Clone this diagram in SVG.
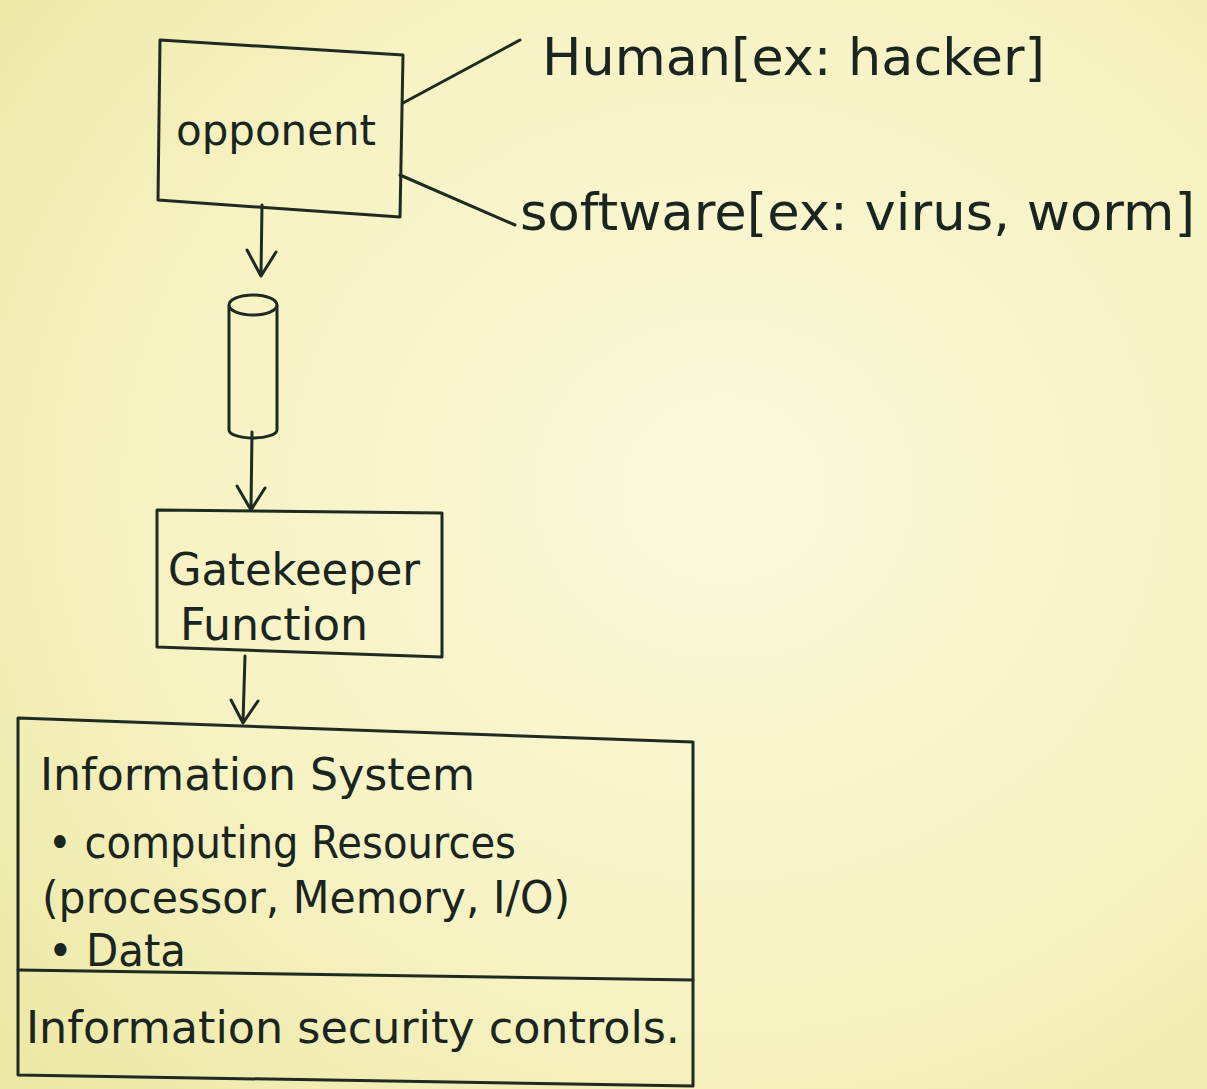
<svg xmlns="http://www.w3.org/2000/svg" width="1207" height="1089" viewBox="0 0 1207 1089">
<defs>
<radialGradient id="paper" cx="0.6" cy="0.45" r="0.8">
<stop offset="0" stop-color="#fbf9dc"/>
<stop offset="0.6" stop-color="#f6f2c2"/>
<stop offset="1" stop-color="#ede7a4"/>
</radialGradient>
<marker id="v" viewBox="0 0 20 20" refX="10" refY="18" markerWidth="20" markerHeight="20" markerUnits="userSpaceOnUse" orient="auto">
</marker>
<style>
.ln{fill:none;stroke:#1e2a22;stroke-width:3;stroke-linecap:round;stroke-linejoin:round}
.tx{font-family:"DejaVu Sans","Liberation Sans",sans-serif;fill:#1a2420;font-weight:normal}
</style>
</defs>
<rect width="1207" height="1089" fill="url(#paper)"/>
<g id="connectors">
<path class="ln" d="M403,103 L520,40"/>
<path class="ln" d="M400,175 L515,225"/>
<path class="ln" d="M262,205 L261,275 M247,250 L261,276 L276,252"/>
<path class="ln" d="M252,432 L251,508 M237,486 L251,510 L265,488"/>
<path class="ln" d="M245,656 L243,722 M231,700 L243,723 L258,701"/>
</g>
<g id="opponent">
<path class="ln" d="M160,40 L403,55 L400,217 L158,200 Z"/>
<text class="tx" x="176" y="145" font-size="42" textLength="200" lengthAdjust="spacingAndGlyphs">opponent</text>
</g>
<g id="human">
<text class="tx" x="542" y="75" font-size="52" textLength="503" lengthAdjust="spacingAndGlyphs">Human[ex: hacker]</text>
</g>
<g id="software">
<text class="tx" x="520" y="230" font-size="52" textLength="675" lengthAdjust="spacingAndGlyphs">software[ex: virus, worm]</text>
</g>
<g id="cylinder">
<path class="ln" d="M229,306 L229,430 A24,8 0 0 0 277,430 L277,306"/>
<ellipse class="ln" cx="253" cy="305" rx="24" ry="10"/>
</g>
<g id="gatekeeper">
<path class="ln" d="M157,510 L442,513 L442,657 L157,647 Z"/>
<text class="tx" x="168" y="585" font-size="44" textLength="252" lengthAdjust="spacingAndGlyphs">Gatekeeper</text>
<text class="tx" x="180" y="640" font-size="44" textLength="188" lengthAdjust="spacingAndGlyphs">Function</text>
</g>
<g id="information-system">
<path class="ln" d="M18,718 L693,742 L693,1086 L18,1075 Z"/>
<path class="ln" d="M18,970 L693,980"/>
<text class="tx" x="40" y="790" font-size="44" textLength="435" lengthAdjust="spacingAndGlyphs">Information System</text>
<text class="tx" x="48" y="858" font-size="44" textLength="468" lengthAdjust="spacingAndGlyphs">• computing Resources</text>
<text class="tx" x="42" y="913" font-size="44" textLength="528" lengthAdjust="spacingAndGlyphs">(processor, Memory, I/O)</text>
<text class="tx" x="48" y="966" font-size="44" textLength="138" lengthAdjust="spacingAndGlyphs">• Data</text>
</g>
<g id="security-controls">
<text class="tx" x="26" y="1043" font-size="44" textLength="654" lengthAdjust="spacingAndGlyphs">Information security controls.</text>
</g>
</svg>
